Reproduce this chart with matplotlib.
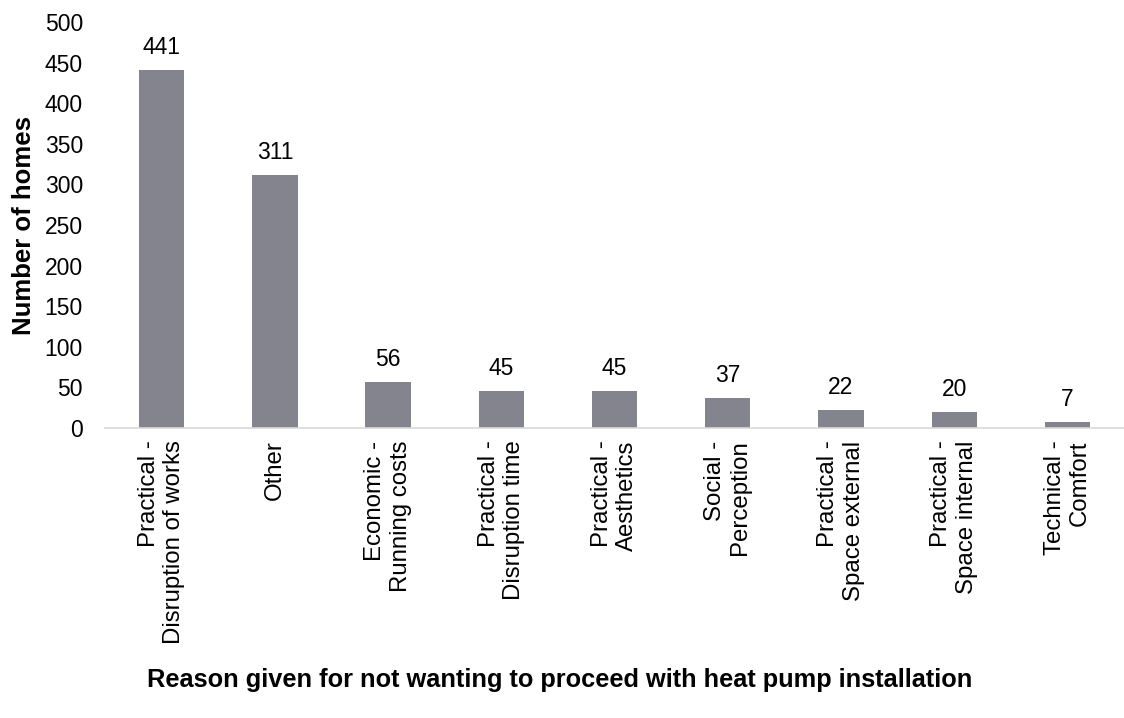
import numpy as np
import matplotlib
matplotlib.use("Agg")
import matplotlib.pyplot as plt

plt.rcParams['font.family'] = ['Liberation Sans', 'DejaVu Sans']

reasons = ["Practical -\nDisruption of works", "Other", "Economic -\nRunning costs",
           "Practical -\nDisruption time", "Practical -\nAesthetics", "Social -\nPerception",
           "Practical -\nSpace external", "Practical -\nSpace internal", "Technical -\nComfort"]
homes = [441, 311, 56, 45, 45, 37, 22, 20, 7]

fig = plt.figure(figsize=(11.24, 7.18), dpi=100)
ax = fig.add_axes([0.0935, 0.404, 0.9065, 0.5655])

x = np.arange(len(reasons))
bars = ax.bar(x, homes, width=0.4, color="#84848f")
for b, v in zip(bars, homes):
    ax.annotate(str(v), (b.get_x() + b.get_width() / 2, v), xytext=(0, 8),
                textcoords="offset points", ha="center", va="bottom", fontsize=16.5)

ax.set_xlim(-0.5, len(reasons) - 0.5)
ax.set_ylim(0, 500)
ax.set_yticks(np.arange(0, 501, 50))
ax.set_xticks(x)
ax.set_xticklabels(reasons, rotation=90, ha="center", va="top", multialignment="right",
                   linespacing=1.2)
ax.tick_params(axis="x", length=0, labelsize=17.3, pad=9)
ax.tick_params(axis="y", length=0, labelsize=16.5, pad=16)
for s in ["top", "right", "left"]:
    ax.spines[s].set_visible(False)
ax.spines["bottom"].set_color("#d9d9d9")
ax.spines["bottom"].set_linewidth(1.2)

fig.text(0.021, 0.6865, "Number of homes", rotation=90, ha="center", va="center",
         fontsize=18.5, fontweight="bold")
fig.text(0.498, 0.053, "Reason given for not wanting to proceed with heat pump installation",
         ha="center", va="center", fontsize=18.3, fontweight="bold")

fig.savefig("out.png", dpi=100)
